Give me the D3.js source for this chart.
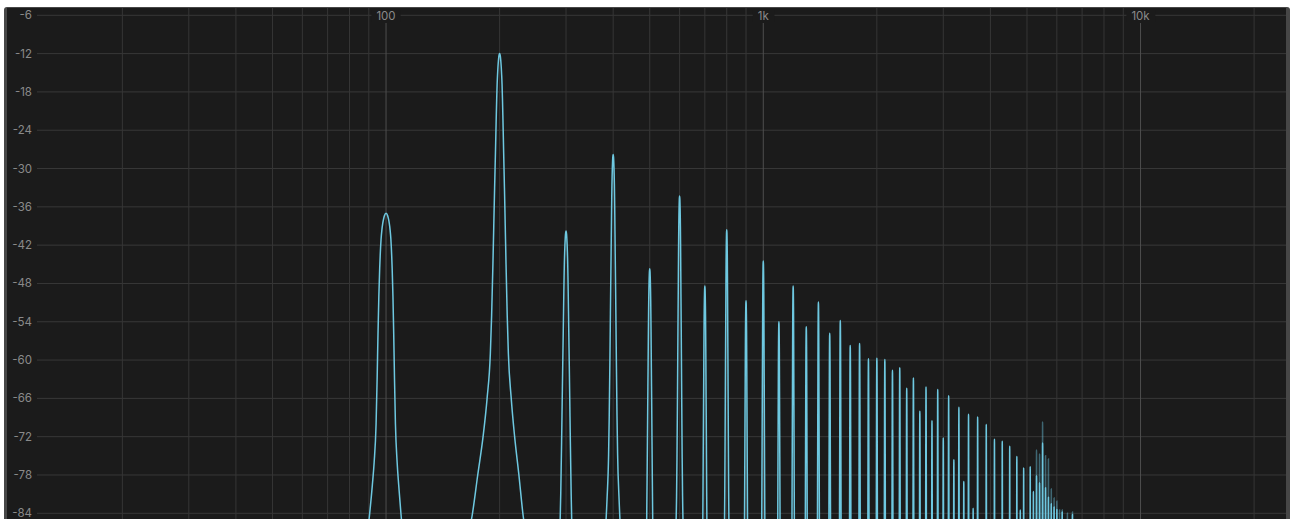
<!DOCTYPE html>
<html>
<head>
<meta charset="utf-8">
<script src="https://cdn.jsdelivr.net/npm/d3@7"></script>
<style>
body { margin: 0; background: #fff; overflow: hidden; }
</style>
</head>
<body>
<svg id="spectrum" width="1292" height="519"></svg>
<script>
// fundamental of the harmonic series (Hz)
var fundamentalHz = 100;

// harmonic numbers and their peak level (dB)
var partials = [1, 2, 3, 4, 5, 6, 7, 8, 9, 10,
	11, 12, 13, 14, 15, 16, 17, 18, 19, 20,
	21, 22, 23, 24, 25, 26, 27, 28, 29, 30,
	31, 32, 33, 34, 35, 36, 37, 39, 41, 43,
	45, 47, 48, 49, 51, 52, 53, 54, 55, 56,
	57, 58, 59, 60, 62, 66];
var levelsDb = [-37.0, -12.0, -39.8, -27.8, -45.7, -34.3, -48.4, -39.6, -50.7, -44.5,
	-54.0, -48.4, -54.8, -50.9, -55.8, -53.8, -57.7, -57.4, -59.8, -59.7,
	-59.9, -61.6, -61.2, -64.4, -62.8, -68.0, -64.2, -69.5, -64.6, -72.2,
	-65.6, -75.6, -67.4, -79.0, -68.5, -83.2, -68.9, -70.1, -72.4, -72.7,
	-73.5, -75.1, -83.5, -76.9, -76.7, -80.6, -78.1, -79.2, -73.0, -80.0,
	-81.5, -82.5, -83.0, -83.4, -83.8, -84.2];

// fainter trace (peak hold) in the 5-6.5k cluster
var holdPartials = [53, 54, 55, 56, 57, 58, 59, 60, 61, 62, 64, 66];
var holdDb = [-74.1, -74.7, -69.7, -75.0, -75.5, -80.2, -81.6, -82.1, -83.5, -83.5, -84.0, -83.8];

// shape of one peak: distance from the centre (Hz) -> drop below the top (dB)
var skirtHz = [0, 1, 1.5, 2, 2.5, 3, 3.5, 4, 4.5, 5, 6, 7, 8, 9.5, 11, 14.7, 19.2, 25, 30.5, 40, 49];
var skirtDrop = [0, 0.5, 1.2, 2.1, 3.3, 4.8, 7, 9.6, 12.5, 15.5, 21, 27, 33, 41, 47, 54, 60, 66, 72, 79, 88];

// the fundamental has a rounder top and steeper sides
var fundSkirtHz = [0, 1, 1.5, 2, 2.5, 3, 3.5, 3.8, 4.3, 4.8, 5.3, 5.9, 7, 8, 9.5, 15, 30, 49];
var fundSkirtDrop = [0, 0.4, 0.9, 1.6, 2.6, 4.1, 6.6, 8.6, 13, 19, 26, 33, 39, 42.5, 47, 58, 74, 88];

// axes
var dbTicks = [-6, -12, -18, -24, -30, -36, -42, -48, -54, -60, -66, -72, -78, -84];
var freqGrid = [20, 30, 40, 50, 60, 70, 80, 90,
	200, 300, 400, 500, 600, 700, 800, 900,
	2000, 3000, 4000, 5000, 6000, 7000, 8000, 9000, 20000];
var freqLabels = [100, 1000, 10000];
var freqLabelText = ["100", "1k", "10k"];

var panel = {left: 7, top: 8, right: 1286, bottom: 519};

var svg = d3.select("#spectrum");

var x = d3.scaleLog()
	.domain([10, 24300])
	.range([8.8, 1286]);
var y = d3.scaleLinear()
	.domain([-6, -84])
	.range([15.3, 513.3]);

// frame
svg.append("rect")
	.attr("x", 4).attr("y", 7)
	.attr("width", 1286).attr("height", 530)
	.attr("rx", 3)
	.attr("fill", "#474747");
svg.append("rect")
	.attr("x", panel.left).attr("y", panel.top)
	.attr("width", panel.right - panel.left).attr("height", 530)
	.attr("fill", "#1b1b1b");

svg.append("defs").append("clipPath")
	.attr("id", "plotclip")
	.append("rect")
	.attr("x", panel.left).attr("y", panel.top)
	.attr("width", panel.right - panel.left)
	.attr("height", panel.bottom - panel.top);

var grid = svg.append("g").attr("clip-path", "url(#plotclip)");

// horizontal grid
grid.selectAll(".hline")
	.data(dbTicks)
	.join("line")
	.attr("class", "hline")
	.attr("x1", 37).attr("x2", panel.right)
	.attr("y1", d => y(d)).attr("y2", d => y(d))
	.attr("stroke", "#383838")
	.attr("stroke-width", 1);

// minor vertical grid
grid.selectAll(".vline")
	.data(freqGrid)
	.join("line")
	.attr("class", "vline")
	.attr("x1", d => x(d)).attr("x2", d => x(d))
	.attr("y1", panel.top).attr("y2", panel.bottom)
	.attr("stroke", "#363636")
	.attr("stroke-width", 1);

// decade lines, lighter, start under the label
grid.selectAll(".dline")
	.data(freqLabels)
	.join("line")
	.attr("class", "dline")
	.attr("x1", d => x(d)).attr("x2", d => x(d))
	.attr("y1", 23).attr("y2", panel.bottom)
	.attr("stroke", "#4e4e4e")
	.attr("stroke-width", 1);

// build the trace from the peak table and the skirt tables
function tracePoints(nums, levels) {
	var pts = [];
	nums.forEach((n, i) => {
		var fc = n * fundamentalHz;
		var sh = n == 1 ? fundSkirtHz : skirtHz;
		var sd = n == 1 ? fundSkirtDrop : skirtDrop;
		for (var k = sh.length - 1; k > 0; k--) {
			pts.push([fc - sh[k], levels[i] - sd[k]]);
		}
		for (var k = 0; k < sh.length; k++) {
			pts.push([fc + sh[k], levels[i] - sd[k]]);
		}
	});
	return pts;
}

var line = d3.line()
	.x(d => x(d[0]))
	.y(d => y(d[1]))
	.curve(d3.curveMonotoneX);

var plot = svg.append("g").attr("clip-path", "url(#plotclip)");

plot.append("path")
	.datum(tracePoints(holdPartials, holdDb))
	.attr("d", line)
	.attr("fill", "none")
	.attr("stroke", "#6cc6df")
	.attr("stroke-opacity", 0.45)
	.attr("stroke-width", 1.5);

plot.append("path")
	.datum(tracePoints(partials, levelsDb))
	.attr("d", line)
	.attr("fill", "none")
	.attr("stroke", "#6ec8e0")
	.attr("stroke-width", 1.5)
	.attr("stroke-linejoin", "round");

// y labels
svg.append("g")
	.attr("font-family", "Inter, 'Liberation Sans', sans-serif")
	.attr("font-size", 11.5)
	.selectAll("text")
	.data(dbTicks)
	.join("text")
	.attr("x", 32)
	.attr("y", d => y(d) + 4)
	.attr("text-anchor", "end")
	.attr("fill", "#8a8a8a")
	.text(d => d);

// frequency labels with a patch of panel colour behind them
var flab = svg.append("g")
	.attr("font-family", "Inter, 'Liberation Sans', sans-serif")
	.attr("font-size", 11.5);
freqLabels.forEach((f, i) => {
	var g = flab.append("g");
	var bg = g.append("rect").attr("fill", "#1b1b1b");
	var t = g.append("text")
		.attr("x", x(f))
		.attr("y", 20)
		.attr("text-anchor", "middle")
		.attr("fill", "#8a8a8a")
		.text(freqLabelText[i]);
	var bb = t.node().getBBox();
	bg.attr("x", bb.x - 5).attr("y", 10)
		.attr("width", bb.width + 10).attr("height", 12);
});
</script>
</body>
</html>
